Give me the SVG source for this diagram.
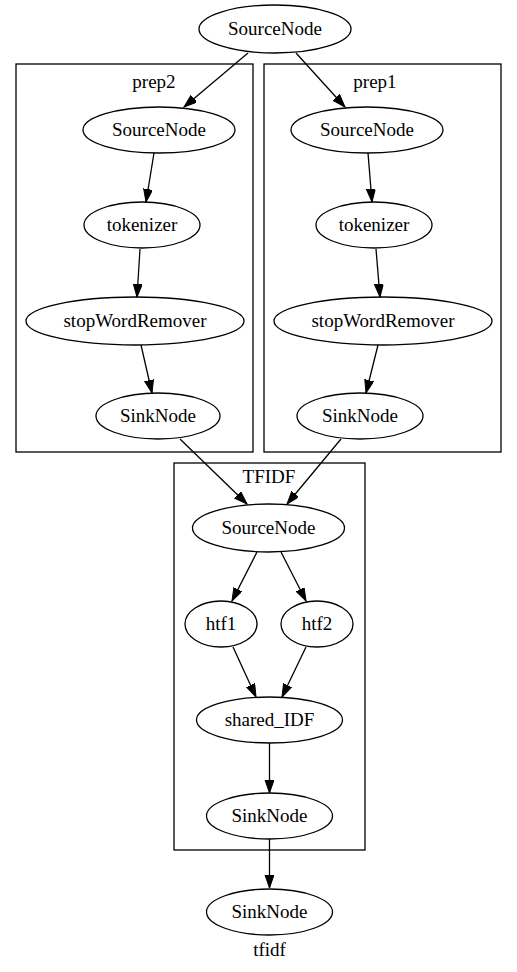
<svg xmlns="http://www.w3.org/2000/svg" width="517" height="972" viewBox="0 0 517 972" font-family="'Liberation Serif', 'DejaVu Serif', serif">
<style>
.n ellipse{fill:none;stroke:#000;stroke-width:1.3}
.c rect{fill:none;stroke:#000;stroke-width:1.3}
text{font-family:'Liberation Serif','DejaVu Serif',serif;font-size:19px;text-anchor:middle;fill:#000}
#edges line{stroke:#000;stroke-width:1.3;marker-end:url(#ah)}
</style>
<defs>
<marker id="ah" markerUnits="userSpaceOnUse" markerWidth="14" markerHeight="10" refX="13" refY="4.5" orient="auto" viewBox="0 0 14 10">
<path d="M0,0 L13,4.5 L0,9 z" fill="#000" stroke="#000" stroke-width="1"/>
</marker>
</defs>
<rect width="517" height="972" fill="#fff"/>
<g id="cluster_prep2" class="c"><rect x="16" y="64" width="237" height="388"/><text x="154" y="88">prep2</text></g>
<g id="cluster_prep1" class="c"><rect x="264" y="64" width="237" height="388"/><text x="375" y="88">prep1</text></g>
<g id="cluster_TFIDF" class="c"><rect x="174" y="463" width="191" height="387"/><text x="269" y="483">TFIDF</text></g>

<g id="edges">
<line x1="248" y1="53" x2="184" y2="107"/>
<line x1="296" y1="53" x2="345" y2="107"/>
<line x1="154" y1="153" x2="146" y2="202"/>
<line x1="368" y1="153" x2="372" y2="202"/>
<line x1="140" y1="249" x2="137" y2="297"/>
<line x1="376" y1="249" x2="380" y2="297"/>
<line x1="141" y1="345" x2="152" y2="393"/>
<line x1="378" y1="345" x2="366" y2="393"/>
<line x1="180" y1="439" x2="247" y2="504"/>
<line x1="341" y1="439" x2="287" y2="504"/>
<line x1="257" y1="552" x2="232" y2="601"/>
<line x1="281" y1="552" x2="306" y2="601"/>
<line x1="233" y1="647" x2="256" y2="697"/>
<line x1="306" y1="647" x2="282" y2="697"/>
<line x1="269.5" y1="743" x2="269.5" y2="793"/>
<line x1="269.5" y1="839" x2="269.5" y2="888"/>
</g>

<g id="src_top" class="n"><ellipse cx="275" cy="29" rx="76" ry="24"/><text x="275" y="35">SourceNode</text></g>
<g id="prep2_source" class="n"><ellipse cx="159" cy="130" rx="76" ry="23"/><text x="159" y="136">SourceNode</text></g>
<g id="prep1_source" class="n"><ellipse cx="367" cy="130" rx="76" ry="23"/><text x="367" y="136">SourceNode</text></g>
<g id="prep2_tokenizer" class="n"><ellipse cx="142" cy="225" rx="58" ry="23"/><text x="142" y="231">tokenizer</text></g>
<g id="prep1_tokenizer" class="n"><ellipse cx="374" cy="225" rx="58" ry="23"/><text x="374" y="231">tokenizer</text></g>
<g id="prep2_stop" class="n"><ellipse cx="135" cy="321" rx="109" ry="24"/><text x="135" y="327">stopWordRemover</text></g>
<g id="prep1_stop" class="n"><ellipse cx="383" cy="321" rx="109" ry="24"/><text x="383" y="327">stopWordRemover</text></g>
<g id="prep2_sink" class="n"><ellipse cx="158" cy="416" rx="62" ry="23"/><text x="158" y="422">SinkNode</text></g>
<g id="prep1_sink" class="n"><ellipse cx="360" cy="416" rx="63" ry="23"/><text x="360" y="422">SinkNode</text></g>
<g id="tfidf_source" class="n"><ellipse cx="268.5" cy="528" rx="76" ry="24"/><text x="268.5" y="534">SourceNode</text></g>
<g id="htf1" class="n"><ellipse cx="221" cy="624" rx="36" ry="23"/><text x="221" y="630">htf1</text></g>
<g id="htf2" class="n"><ellipse cx="317" cy="624" rx="36" ry="23"/><text x="317" y="630">htf2</text></g>
<g id="shared_IDF" class="n"><ellipse cx="269.5" cy="720" rx="73" ry="23"/><text x="269.5" y="726">shared_IDF</text></g>
<g id="tfidf_sink" class="n"><ellipse cx="269.5" cy="816" rx="63" ry="23"/><text x="269.5" y="822">SinkNode</text></g>
<g id="sink_bottom" class="n"><ellipse cx="269.5" cy="912" rx="63" ry="23"/><text x="269.5" y="918">SinkNode</text></g>
<text x="269.5" y="956">tfidf</text>
</svg>
